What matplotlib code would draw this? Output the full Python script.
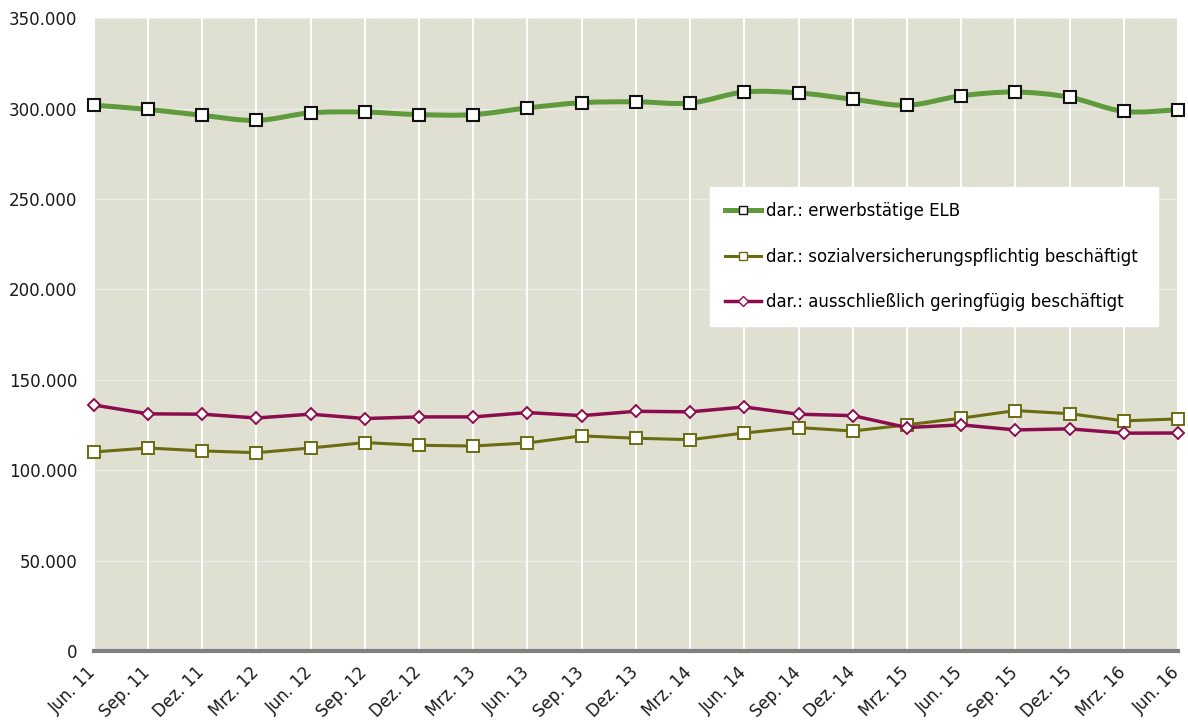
import matplotlib
matplotlib.use("Agg")
import matplotlib.pyplot as plt
import matplotlib.transforms as mtransforms
import numpy as np
from matplotlib.path import Path
from matplotlib.patches import PathPatch
from matplotlib.lines import Line2D
from matplotlib.ticker import FuncFormatter, MultipleLocator

# Quartale Jun. 11 bis Jun. 16
labels = ["Jun. 11", "Sep. 11", "Dez. 11", "Mrz. 12", "Jun. 12", "Sep. 12", "Dez. 12",
          "Mrz. 13", "Jun. 13", "Sep. 13", "Dez. 13", "Mrz. 14", "Jun. 14", "Sep. 14",
          "Dez. 14", "Mrz. 15", "Jun. 15", "Sep. 15", "Dez. 15", "Mrz. 16", "Jun. 16"]

erwerbstaetige = [301900, 299600, 296300, 293500, 297700, 298100, 296700, 296700, 300400,
                  303300, 303800, 303100, 309200, 308700, 305200, 301900, 307100, 309200,
                  306300, 298500, 299400]
sozialvers = [110100, 112300, 110700, 109700, 112300, 115300, 113800, 113400, 115100,
              119000, 117700, 116900, 120600, 123600, 121700, 125100, 128800, 133000,
              131300, 127300, 128400]
geringfuegig = [136100, 131200, 131000, 128900, 131000, 128600, 129500, 129500, 131900,
                130200, 132600, 132300, 135000, 131000, 130200, 123600, 125100, 122300,
                122900, 120500, 120600]

names = ["dar.: erwerbstätige ELB",
         "dar.: sozialversicherungspflichtig beschäftigt",
         "dar.: ausschließlich geringfügig beschäftigt"]

c_green = "#5f9a3c"
c_olive = "#6b6b12"
c_purple = "#8c0d4f"
bg = "#dfe0d2"


def smooth_path(xs, ys):
    # Catmull-Rom -> Bezier, wie die geglättete Linie in Excel
    p = np.column_stack([xs, ys]).astype(float)
    n = len(p)
    verts = [p[0]]
    codes = [Path.MOVETO]
    for i in range(n - 1):
        p0 = p[max(i - 1, 0)]
        p1 = p[i]
        p2 = p[i + 1]
        p3 = p[min(i + 2, n - 1)]
        c1 = p1 + (p2 - p0) / 6.0
        c2 = p2 - (p3 - p1) / 6.0
        verts += [c1, c2, p2]
        codes += [Path.CURVE4] * 3
    return Path(verts, codes)


x = np.arange(len(labels))

fig = plt.figure(figsize=(11.88, 7.22), dpi=100)
ax = fig.add_axes([0.0789, 0.0983, 0.9127, 0.8764])
ax.set_facecolor(bg)

# geglättete grüne Linie
patch = PathPatch(smooth_path(x, erwerbstaetige), fill=False, edgecolor=c_green,
                  lw=3.6, capstyle="round", joinstyle="round", zorder=5, clip_on=False)
ax.add_patch(patch)
ax.plot(x, erwerbstaetige, ls="none", marker="s", ms=8.5, mfc="white", mec="#111111",
        mew=1.5, zorder=6, clip_on=False)

ax.plot(x, sozialvers, color=c_olive, lw=2.2, marker="s", ms=8.5, mfc="white",
        mec=c_olive, mew=1.4, zorder=3, clip_on=False)
ax.plot(x, geringfuegig, color=c_purple, lw=2.5, marker="D", ms=6.5, mfc="white",
        mec=c_purple, mew=1.4, zorder=4, clip_on=False)

ax.set_xlim(0, len(labels) - 1)
ax.set_ylim(0, 350000)
ax.yaxis.set_major_locator(MultipleLocator(50000))
ax.yaxis.set_major_formatter(FuncFormatter(lambda v, pos: f"{v:,.0f}".replace(",", ".")))
ax.set_xticks(x)
ax.set_xticklabels(labels, rotation=45, ha="right", rotation_mode="anchor")

ax.tick_params(axis="both", length=0, labelsize=12, colors="#1a1a1a")
ax.tick_params(axis="y", pad=12)
ax.tick_params(axis="x", pad=9)

# Beschriftungen etwas nach links, damit "Jun. 16" ins Bild passt
shift = mtransforms.ScaledTranslation(-5 / 72, 0, fig.dpi_scale_trans)
for lbl in ax.get_xticklabels():
    lbl.set_transform(lbl.get_transform() + shift)

ax.grid(axis="x", color="white", lw=1.5, zorder=1)
ax.grid(axis="y", color="white", lw=1.0, alpha=0.4, zorder=1)
ax.set_axisbelow(True)

for s in ["top", "right", "left"]:
    ax.spines[s].set_visible(False)
ax.spines["bottom"].set_color("#808080")
ax.spines["bottom"].set_linewidth(3)
ax.spines["bottom"].set_zorder(2)

handles = [
    Line2D([], [], color=c_green, lw=3.6, marker="s", ms=6, mfc="white", mec="#111111", mew=1.0),
    Line2D([], [], color=c_olive, lw=2.2, marker="s", ms=6, mfc="white", mec=c_olive, mew=1.0),
    Line2D([], [], color=c_purple, lw=2.5, marker="D", ms=5, mfc="white", mec=c_purple, mew=1.0),
]
leg = ax.legend(handles, names, loc="upper left", bbox_to_anchor=(0.568, 0.515, 0.4135, 0.218),
                mode="expand", frameon=True, fancybox=False, fontsize=12, labelspacing=1.65,
                borderpad=0.9, handlelength=2.2, handletextpad=0.3, borderaxespad=0)
leg.get_frame().set_facecolor("white")
leg.get_frame().set_edgecolor("white")
leg.get_frame().set_alpha(1)
leg.set_zorder(10)

fig.savefig("out.png", dpi=100)
plt.close(fig)
